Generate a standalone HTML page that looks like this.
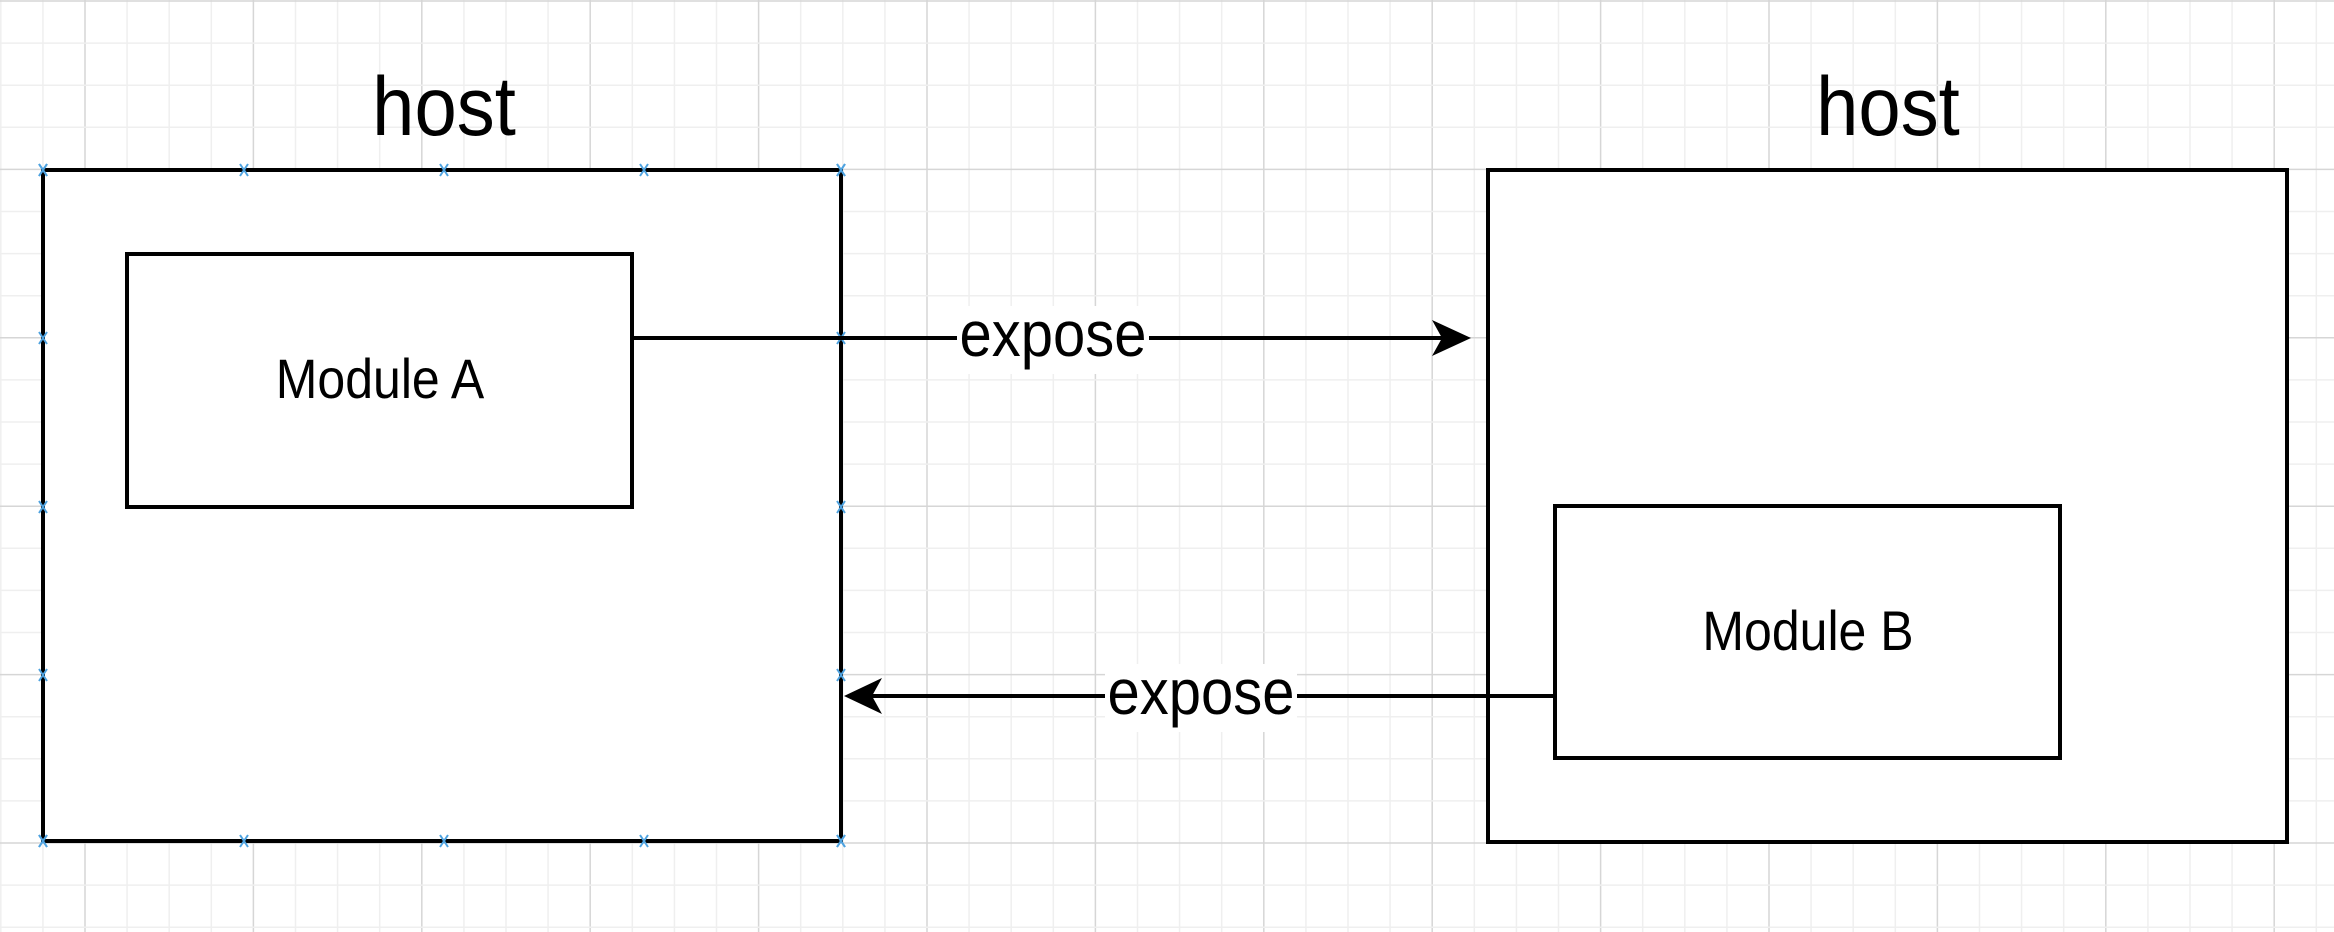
<!DOCTYPE html>
<html><head><meta charset="utf-8"><style>
html,body{margin:0;padding:0;background:#fff;}
svg{display:block;font-family:"Liberation Sans",Arial,sans-serif;}
</style></head><body>
<svg id="d" width="2334" height="932" viewBox="0 0 2334 932">
<g id="grid"></g>
<g>
<text x="444" y="135" font-size="76" text-anchor="middle" transform="translate(0,135) scale(1,1.1) translate(0,-135)">host</text>
<rect x="43" y="170" width="798" height="671" fill="#fff" stroke="#000" stroke-width="4"/>
<rect x="127" y="254" width="505" height="253" fill="#fff" stroke="#000" stroke-width="4"/>
<text x="380" y="398" font-size="50" text-anchor="middle" transform="translate(0,398) scale(1,1.12) translate(0,-398)">Module A</text>
</g>
<g>
<text x="1888" y="135" font-size="76" text-anchor="middle" transform="translate(0,135) scale(1,1.1) translate(0,-135)">host</text>
<rect x="1488" y="170" width="799" height="672" fill="#fff" stroke="#000" stroke-width="4"/>
<rect x="1555" y="506" width="505" height="252" fill="#fff" stroke="#000" stroke-width="4"/>
<text x="1808" y="650" font-size="50" text-anchor="middle" transform="translate(0,650) scale(1,1.12) translate(0,-650)">Module B</text>
</g>
<g id="markers"></g>
<g>
<line x1="632" y1="338" x2="1450" y2="338" stroke="#000" stroke-width="4"/>
<path d="M1471 338 L1432 320 L1442 338 L1432 356 Z" fill="#000"/>
<rect x="957" y="306" width="192" height="68" fill="#fff"/>
<text x="1053" y="356" font-size="58" text-anchor="middle" transform="translate(0,356) scale(1,1.1) translate(0,-356)">expose</text>
</g>
<g>
<line x1="1555" y1="696" x2="862" y2="696" stroke="#000" stroke-width="4"/>
<path d="M844 696 L882 678 L872 696 L882 714 Z" fill="#000"/>
<rect x="1105" y="664" width="192" height="68" fill="#fff"/>
<text x="1201" y="714" font-size="58" text-anchor="middle" transform="translate(0,714) scale(1,1.1) translate(0,-714)">expose</text>
</g>
</svg>
<script>
var NS="http://www.w3.org/2000/svg";
var g=document.getElementById('grid');
var step=42.1;
for(var k=0;k*step<2334;k++){
  var x=0.8+k*step;var l=document.createElementNS(NS,'line');
  l.setAttribute('x1',x);l.setAttribute('x2',x);l.setAttribute('y1',0);l.setAttribute('y2',932);
  l.setAttribute('stroke',((k-2)%4==0)?'#d6d6d6':'#efefef');l.setAttribute('stroke-width',1.5);
  
  
  g.appendChild(l);
}
for(var k=0;k*step<932;k++){
  var y=1+k*step;var l=document.createElementNS(NS,'line');
  l.setAttribute('y1',y);l.setAttribute('y2',y);l.setAttribute('x1',0);l.setAttribute('x2',2334);
  l.setAttribute('stroke',(k%4==0)?'#d6d6d6':'#efefef');l.setAttribute('stroke-width',1.5);
  
  
  g.appendChild(l);
}
var m=document.getElementById('markers');
var xs=[43,244,444,644,841],ys=[170,338,507,675,841],pts=[];
xs.forEach(function(x){pts.push([x,170]);pts.push([x,841]);});
ys.forEach(function(y){pts.push([43,y]);pts.push([841,y]);});
pts.forEach(function(p){
  var t=document.createElementNS(NS,'path');
  t.setAttribute('d','M'+(p[0]-4)+' '+(p[1]-6)+'L'+(p[0]+4)+' '+(p[1]+6)+'M'+(p[0]+4)+' '+(p[1]-6)+'L'+(p[0]-4)+' '+(p[1]+6));
  t.setAttribute('stroke','#4fa3e0');t.setAttribute('stroke-width',2);
  
  
  m.appendChild(t);
});
</script>
</body></html>
